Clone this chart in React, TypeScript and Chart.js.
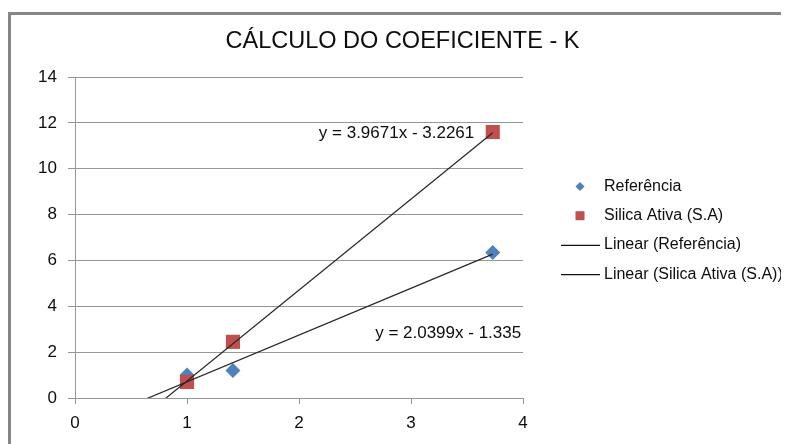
import React, { useEffect, useRef } from "react";
import { Chart, registerables } from "chart.js";

Chart.register(...registerables);

// ---- data ----
const TITLE = "CÁLCULO DO COEFICIENTE - K";
const X_VALUES = [1, 1.41, 3.73];
const REF_VALUES = [1.0, 1.2, 6.35];
const SILICA_VALUES = [0.7, 2.45, 11.6];
const SERIES_LABELS = [
  "Referência",
  "Silica Ativa (S.A)",
  "Linear (Referência)",
  "Linear (Silica Ativa (S.A))",
];
const REF_TREND = { slope: 2.0399, intercept: -1.335 };
const SILICA_TREND = { slope: 3.9671, intercept: -3.2261 };
const TREND_X_RANGE = [0.5, 3.73];
const REF_EQUATION = "y = 2.0399x - 1.335";
const SILICA_EQUATION = "y = 3.9671x - 3.2261";
const X_RANGE = [0, 4];
const Y_RANGE = [0, 14];
const X_STEP = 1;
const Y_STEP = 2;

// ---- styles ----
const FONT = '"Liberation Sans", Arial, sans-serif';
const BLUE = "#4F81BD";
const RED = "#C0504D";
const TREND_COLOR = "#262626";
const GRID_COLOR = "#969696";
const TEXT_COLOR = "#0d0d0d";

const toPoints = (xs: number[], ys: number[]) => xs.map((x, i) => ({ x, y: ys[i] }));
const trendPoints = (t: { slope: number; intercept: number }) =>
  TREND_X_RANGE.map((x) => ({ x, y: t.slope * x + t.intercept }));

const decorPlugin = {
  id: "decor",
  beforeDraw(chart: any) {
    const { ctx, width, height } = chart;
    ctx.save();
    ctx.fillStyle = "#ffffff";
    ctx.fillRect(0, 0, width, height);
    ctx.strokeStyle = "#868686";
    ctx.lineWidth = 3;
    ctx.strokeRect(1.5, 5.5, width + 20, height + 20);
    // title
    ctx.fillStyle = TEXT_COLOR;
    ctx.font = `23.5px ${FONT}`;
    ctx.textAlign = "center";
    ctx.textBaseline = "middle";
    ctx.fillText(TITLE, 394.5, 34);
    ctx.restore();
  },
  afterDatasetsDraw(chart: any) {
    const { ctx, scales } = chart;
    const xs = scales.x;
    const ys = scales.y;
    ctx.save();
    ctx.fillStyle = TEXT_COLOR;
    ctx.font = `17px ${FONT}`;
    ctx.textBaseline = "middle";
    ctx.textAlign = "right";
    ctx.fillText(SILICA_EQUATION, xs.getPixelForValue(3.565), ys.getPixelForValue(11.56));
    ctx.textAlign = "left";
    ctx.fillText(REF_EQUATION, xs.getPixelForValue(2.68), ys.getPixelForValue(2.83));
    ctx.restore();
  },
  afterDraw(chart: any) {
    const { ctx } = chart;
    const datasets = chart.data.datasets;
    const markerX = 572;
    const lineX0 = 553;
    const lineX1 = 592;
    const textX = 596;
    const y0 = 178.5;
    const gap = 29.2;
    ctx.save();
    ctx.font = `16px ${FONT}`;
    ctx.textBaseline = "middle";
    ctx.textAlign = "left";
    datasets.forEach((ds: any, i: number) => {
      const y = y0 + i * gap;
      if (ds.showLine) {
        ctx.strokeStyle = "#111";
        ctx.lineWidth = 1.3;
        ctx.beginPath();
        ctx.moveTo(lineX0, y + 0.5);
        ctx.lineTo(lineX1, y + 0.5);
        ctx.stroke();
      } else if (ds.pointStyle === "rectRot") {
        ctx.fillStyle = ds.backgroundColor;
        const r = 4.5;
        ctx.beginPath();
        ctx.moveTo(markerX, y - r);
        ctx.lineTo(markerX + r, y);
        ctx.lineTo(markerX, y + r);
        ctx.lineTo(markerX - r, y);
        ctx.closePath();
        ctx.fill();
      } else {
        ctx.fillStyle = ds.backgroundColor;
        ctx.fillRect(markerX - 4.5, y - 4.5, 9, 9);
      }
      ctx.fillStyle = TEXT_COLOR;
      ctx.fillText(ds.label, textX, y);
    });
    ctx.restore();
  },
};

export default function App() {
  const ref = useRef<HTMLCanvasElement>(null);
  useEffect(() => {
    document.body.style.overflow = "hidden";
    const chart = new Chart(ref.current as HTMLCanvasElement, {
      type: "scatter",
      data: {
        datasets: [
          {
            label: SERIES_LABELS[0],
            data: toPoints(X_VALUES, REF_VALUES),
            backgroundColor: BLUE,
            borderColor: BLUE,
            pointStyle: "rectRot",
            pointRadius: 7.5,
            pointBorderWidth: 0,
            order: 2,
          },
          {
            label: SERIES_LABELS[1],
            data: toPoints(X_VALUES, SILICA_VALUES),
            backgroundColor: RED,
            borderColor: RED,
            pointStyle: "rect",
            pointRadius: 10,
            pointBorderWidth: 0,
            order: 1,
          },
          {
            label: SERIES_LABELS[2],
            data: trendPoints(REF_TREND),
            showLine: true,
            borderColor: TREND_COLOR,
            backgroundColor: TREND_COLOR,
            borderWidth: 1.2,
            pointRadius: 0,
            order: 0,
          },
          {
            label: SERIES_LABELS[3],
            data: trendPoints(SILICA_TREND),
            showLine: true,
            borderColor: TREND_COLOR,
            backgroundColor: TREND_COLOR,
            borderWidth: 1.2,
            pointRadius: 0,
            order: 0,
          },
        ],
      },
      options: {
        animation: false,
        responsive: true,
        maintainAspectRatio: false,
        layout: { padding: { top: 69, right: 266, left: 0, bottom: 0 } },
        plugins: {
          legend: { display: false },
          title: { display: false },
          tooltip: { enabled: false },
        },
        scales: {
          x: {
            type: "linear",
            min: X_RANGE[0],
            max: X_RANGE[1],
            afterFit: (s: any) => {
              s.height = 46;
            },
            ticks: {
              stepSize: X_STEP,
              color: TEXT_COLOR,
              font: { family: FONT, size: 17 },
              padding: 9,
            },
            grid: {
              drawOnChartArea: false,
              drawTicks: true,
              tickLength: 6,
              color: GRID_COLOR,
            },
            border: { color: GRID_COLOR, width: 1 },
          },
          y: {
            type: "linear",
            min: Y_RANGE[0],
            max: Y_RANGE[1],
            afterFit: (s: any) => {
              s.width = 67;
            },
            ticks: {
              stepSize: Y_STEP,
              color: TEXT_COLOR,
              font: { family: FONT, size: 17 },
              padding: 11,
            },
            grid: {
              drawOnChartArea: true,
              drawTicks: true,
              tickLength: 7,
              color: GRID_COLOR,
            },
            border: { color: GRID_COLOR, width: 1 },
          },
        },
      },
      plugins: [decorPlugin],
    } as any);
    return () => chart.destroy();
  }, []);
  return (
    <div style={{ position: "relative", width: 781, height: 436 }}>
      <canvas ref={ref} />
    </div>
  );
}
